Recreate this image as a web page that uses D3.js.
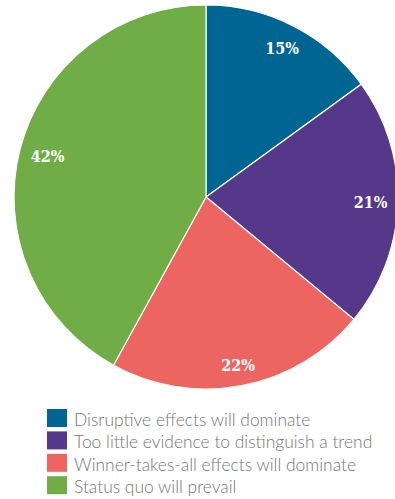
<!DOCTYPE html>
<html><head><meta charset="utf-8">
<script src="https://cdn.jsdelivr.net/npm/d3@7"></script>
<style>body{margin:0;background:#fff;}svg{display:block;}</style>
</head><body>
<script>
const categories = ["Disruptive effects will dominate","Too little evidence to distinguish a trend","Winner-takes-all effects will dominate","Status quo will prevail"];
const values = [15, 21, 22, 42];
const colors = ["#006592", "#56388a", "#ed6560", "#70ad47"];

const W = 395, H = 499;
const svg = d3.select("body").append("svg").attr("width", W).attr("height", H);
const cx = 206, cy = 197, R = 192;
const pie = d3.pie().sort(null).value(d => d)(values);
const arc = d3.arc().innerRadius(0).outerRadius(R);
const g = svg.append("g").attr("transform", `translate(${cx},${cy})`);
g.selectAll("path").data(pie).join("path")
  .attr("d", arc).attr("fill", (d,i) => colors[i])
  .attr("stroke", "#fff").attr("stroke-width", 1.2);
const labels = g.selectAll("text").data(pie).join("text")
  .attr("text-anchor", "middle").attr("dy", "0.36em")
  .attr("font-family", "DejaVu Serif Condensed").attr("font-weight", "bold").attr("font-size", 16)
  .attr("fill", "#fff").text(d => d.data + "%");
// inside-end placement
labels.each(function(d) {
  const bb = this.getBBox();
  const a = (d.startAngle + d.endAngle) / 2;
  const s = Math.sin(a), c = -Math.cos(a);
  const ext = Math.abs(s) * bb.width / 2 + Math.abs(c) * bb.height / 2 * 0.8;
  const r = 182 - ext;
  d3.select(this).attr("transform", `translate(${s * r},${c * r})`);
});

const lg = svg.append("g");
categories.forEach((c, i) => {
  const y = 409 + i * 22.4;
  lg.append("rect").attr("x", 47).attr("y", y).attr("width", 20).attr("height", 18).attr("fill", colors[i]);
  lg.append("text").attr("x", 74).attr("y", y + 17)
    .attr("font-family", "Lato").attr("font-weight", 300).attr("font-size", 17.4)
    .attr("fill", "#767676").text(c);
});
</script>
</body></html>
